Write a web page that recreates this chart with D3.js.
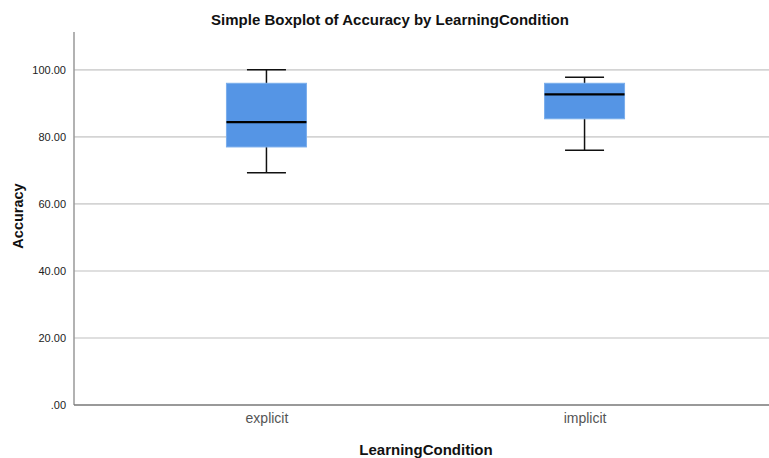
<!DOCTYPE html>
<html><head><meta charset="utf-8">
<script src="https://cdn.jsdelivr.net/npm/d3@7"></script>
<style>body{margin:0;background:#fff;overflow:hidden}svg{display:block}</style>
</head><body><div id="chart"></div>
<script>
const categories = ["explicit", "implicit"];
const whiskerLow  = [69.3, 76.0];
const q1          = [77.0, 85.4];
const median      = [84.4, 92.7];
const q3          = [96.0, 96.0];
const whiskerHigh = [100.0, 97.8];
const yTicks = [0, 20, 40, 60, 80, 100];

const W = 769, H = 458;
const plotLeft = 74, plotTop = 32, plotBottom = 405;
const svg = d3.select("#chart").append("svg").attr("width", W).attr("height", H);

const y = d3.scaleLinear().domain([0, 111.3]).range([plotBottom, plotTop]);
const x = d3.scalePoint().domain(categories).range([plotLeft, 777]).padding(0.605);

// gridlines
svg.append("g").selectAll("line").data(yTicks.filter(d => d > 0)).join("line")
  .attr("x1", plotLeft).attr("x2", W).attr("y1", d => y(d)).attr("y2", d => y(d))
  .attr("stroke", "#d4d4d4").attr("stroke-width", 1.6);

// y axis
const yAxis = d3.axisLeft(y).tickValues(yTicks).tickSize(0).tickPadding(8)
  .tickFormat(d => d === 0 ? ".00" : d3.format(".2f")(d));
const gy = svg.append("g").attr("transform", `translate(${plotLeft},0)`).call(yAxis);
gy.select(".domain").remove();
gy.selectAll("text").attr("font-family", "Liberation Sans, Arial, sans-serif")
  .attr("font-size", 11).attr("fill", "#222");
svg.append("line").attr("x1", plotLeft).attr("x2", plotLeft).attr("y1", plotTop).attr("y2", plotBottom)
  .attr("stroke", "#999").attr("stroke-width", 1.5);

// x axis
const xAxis = d3.axisBottom(x).tickSize(0).tickPadding(8);
const gx = svg.append("g").attr("transform", `translate(0,${plotBottom})`).call(xAxis);
gx.select(".domain").remove();
gx.selectAll("text").attr("font-family", "Liberation Sans, Arial, sans-serif")
  .attr("font-size", 14).attr("fill", "#555");
svg.append("line").attr("x1", plotLeft).attr("x2", W).attr("y1", plotBottom).attr("y2", plotBottom)
  .attr("stroke", "#777").attr("stroke-width", 1.5);

// boxes
const data = categories.map((c, i) => ({c, lo: whiskerLow[i], q1: q1[i], med: median[i], q3: q3[i], hi: whiskerHigh[i]}));
const boxW = 80, capW = 39;
const g = svg.append("g").selectAll("g").data(data).join("g");
g.append("line").attr("x1", d => x(d.c)).attr("x2", d => x(d.c))
  .attr("y1", d => y(d.hi)).attr("y2", d => y(d.lo)).attr("stroke", "#111").attr("stroke-width", 1.5);
g.append("line").attr("x1", d => x(d.c) - capW/2).attr("x2", d => x(d.c) + capW/2)
  .attr("y1", d => y(d.hi)).attr("y2", d => y(d.hi)).attr("stroke", "#111").attr("stroke-width", 1.5);
g.append("line").attr("x1", d => x(d.c) - capW/2).attr("x2", d => x(d.c) + capW/2)
  .attr("y1", d => y(d.lo)).attr("y2", d => y(d.lo)).attr("stroke", "#111").attr("stroke-width", 1.5);
g.append("rect").attr("x", d => x(d.c) - boxW/2).attr("width", boxW)
  .attr("y", d => y(d.q3)).attr("height", d => y(d.q1) - y(d.q3))
  .attr("fill", "#5595e5").attr("stroke", "#7aaeec").attr("stroke-width", 1);
g.append("line").attr("x1", d => x(d.c) - boxW/2).attr("x2", d => x(d.c) + boxW/2)
  .attr("y1", d => y(d.med)).attr("y2", d => y(d.med)).attr("stroke", "#000").attr("stroke-width", 2.2);

// titles
const font = "Liberation Sans, Arial, sans-serif";
svg.append("text").attr("x", 390).attr("y", 25).attr("text-anchor", "middle")
  .attr("font-family", font).attr("font-size", 15).attr("font-weight", "bold").attr("fill", "#111")
  .text("Simple Boxplot of Accuracy by LearningCondition");
svg.append("text").attr("transform", "translate(23,216) rotate(-90)").attr("text-anchor", "middle")
  .attr("font-family", font).attr("font-size", 14.5).attr("font-weight", "bold").attr("fill", "#111")
  .text("Accuracy");
svg.append("text").attr("x", 426).attr("y", 455).attr("text-anchor", "middle")
  .attr("font-family", font).attr("font-size", 15).attr("font-weight", "bold").attr("fill", "#111")
  .text("LearningCondition");
</script></body></html>
